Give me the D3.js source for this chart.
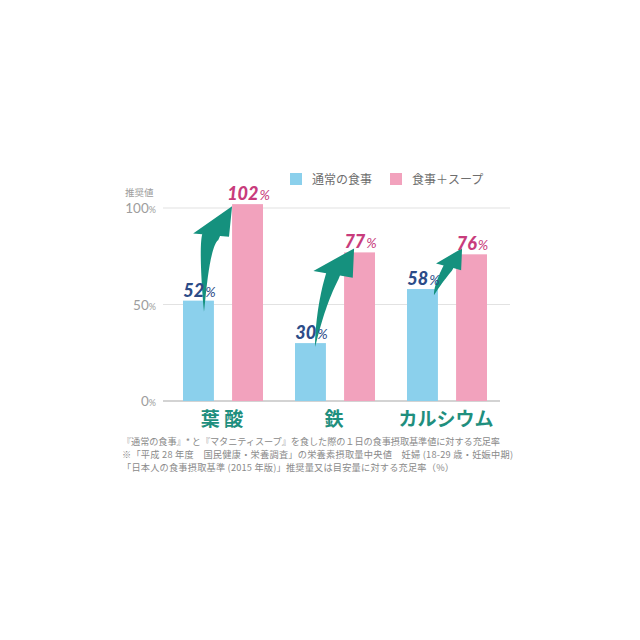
<!DOCTYPE html>
<html><head><meta charset="utf-8">
<script src="https://cdn.jsdelivr.net/npm/d3@7"></script>
<style>html,body{margin:0;padding:0;background:#fff;}svg{display:block;}</style>
</head><body>
<svg id="chart" width="640" height="640"></svg>
<script>
// ---- data ----
const categories = ["葉 酸", "鉄", "カルシウム"];
const seriesNames = ["通常の食事", "食事＋スープ"];
const normalMeal = [52, 30, 58];
const mealPlusSoup = [102, 77, 76];
const yTicks = [0, 50, 100];
const yAxisTitle = "推奨値";
const footnotes = [
  "『通常の食事』* と『マタニティスープ』を食した際の１日の食事摂取基準値に対する充足率",
  "※「平成 28 年度　国民健康・栄養調査」の栄養素摂取量中央値　妊婦 (18-29 歳・妊娠中期)",
  "「日本人の食事摂取基準 (2015 年版)」推奨量又は目安量に対する充足率（%）"
];

// ---- style ----
const colors = {blue: "#8bd0ec", pink: "#f2a2bd", arrow: "#15917e",
  blueLabel: "#2c4c88", pinkLabel: "#c83c7c", cat: "#1f8f7e",
  grid: "#e2e2e2", base: "#c4c4c4", tick: "#9d9d9d", note: "#8a8a8a"};
const arrowStyle = [
  {tail: [21, 11], tip: [0, 2],  head: [-21, 29],   baseAng: 5,  W: 18, w: 9, curve: 1.0},
  {tail: [20, 4],  tip: [10, -4], head: [-21, 26],  baseAng: 10, W: 20, w: 7, curve: 0.4},
  {tail: [27, 6],  tip: [6, -6],  head: [-13.5, 18.5], baseAng: 15, W: 13, w: 5, curve: 0.6}
];
const footWidths = [378, 391, 332];

const svg = d3.select("#chart");
const y = d3.scaleLinear().domain([0, 100]).range([401, 208]);
const x = d3.scaleBand().domain(categories).range([167, 503]).padding(0);
const xs = d3.scaleBand().domain(seriesNames).range([16, 96]).paddingInner(0.37);

// grid lines
svg.append("g").selectAll("line").data(yTicks).join("line")
  .attr("x1", 163).attr("x2", d => d === 0 ? 500 : 510)
  .attr("y1", d => y(d)).attr("y2", d => y(d))
  .attr("stroke", d => d === 0 ? colors.base : colors.grid)
  .attr("stroke-width", d => d === 0 ? 1.5 : 1.2);

// tick labels
const tl = svg.append("g").selectAll("text").data(yTicks).join("text")
  .attr("x", 156).attr("y", d => y(d) + 5).attr("text-anchor", "end")
  .attr("fill", colors.tick).attr("font-family", "Lato, 'Open Sans', sans-serif")
  .attr("font-weight", 400).attr("font-size", 13.5);
tl.append("tspan").text(d => d);
tl.append("tspan").attr("font-size", 9).text("%");

svg.append("text").attr("x", 125).attr("y", 196).text(yAxisTitle)
  .attr("fill", colors.tick).attr("font-family", "'Noto Sans CJK JP', sans-serif")
  .attr("font-size", 9.5);

// bars
const groups = svg.append("g").selectAll("g").data(categories).join("g")
  .attr("transform", c => `translate(${x(c)},0)`);
groups.append("rect").attr("x", xs(seriesNames[0])).attr("width", xs.bandwidth())
  .attr("y", (c, i) => y(normalMeal[i])).attr("height", (c, i) => y(0) - y(normalMeal[i]))
  .attr("fill", colors.blue);
groups.append("rect").attr("x", xs(seriesNames[1])).attr("width", xs.bandwidth())
  .attr("y", (c, i) => y(mealPlusSoup[i])).attr("height", (c, i) => y(0) - y(mealPlusSoup[i]))
  .attr("fill", colors.pink);

// arrows
function arrowPath(T, P, st) {
  const B = [P[0] + st.head[0], P[1] + st.head[1]];
  const hl = Math.hypot(st.head[0], st.head[1]);
  const d = [-st.head[0] / hl, -st.head[1] / hl];
  let k = (B[0] - T[0]) / d[0];
  if (k < 2) k = 2;
  const Ci = [T[0], B[1] - k * d[1]];
  const M = [(T[0] + B[0]) / 2, (T[1] + B[1]) / 2];
  const C = [M[0] + (Ci[0] - M[0]) * st.curve, M[1] + (Ci[1] - M[1]) * st.curve];
  const a = st.baseAng * Math.PI / 180;
  const u = [Math.cos(a), Math.sin(a)];
  const left = [], right = [];
  const N = 30;
  for (let i = 0; i <= N; i++) {
    const t = i / N;
    const p = [(1-t)*(1-t)*T[0] + 2*(1-t)*t*C[0] + t*t*B[0],
               (1-t)*(1-t)*T[1] + 2*(1-t)*t*C[1] + t*t*B[1]];
    const tg = [2*(1-t)*(C[0]-T[0]) + 2*t*(B[0]-C[0]), 2*(1-t)*(C[1]-T[1]) + 2*t*(B[1]-C[1])];
    const tn = Math.hypot(tg[0], tg[1]) || 1;
    let n = [tg[1] / tn, -tg[0] / tn];
    if (n[0] < 0) n = [-n[0], -n[1]];
    const wd = st.w * Math.pow(t, 0.85);
    if (i === N) { left.push([B[0] - u[0]*st.w, B[1] - u[1]*st.w]); right.push([B[0] + u[0]*st.w, B[1] + u[1]*st.w]); }
    else { left.push([p[0] - n[0]*wd, p[1] - n[1]*wd]); right.push([p[0] + n[0]*wd, p[1] + n[1]*wd]); }
  }
  const pts = [].concat(right,
    [[B[0] + u[0]*st.W, B[1] + u[1]*st.W], P, [B[0] - u[0]*st.W, B[1] - u[1]*st.W]],
    left.slice().reverse());
  return d3.line()(pts) + "Z";
}
svg.append("g").selectAll("path").data(categories).join("path")
  .attr("fill", colors.arrow)
  .attr("d", (c, i) => {
    const st = arrowStyle[i];
    const T = [x(c) + xs(seriesNames[0]) + st.tail[0], y(normalMeal[i]) + st.tail[1]];
    const P = [x(c) + xs(seriesNames[1]) + st.tip[0], y(mealPlusSoup[i]) + st.tip[1]];
    return arrowPath(T, P, st);
  });

// value labels
function valueLabels(vals, series, color) {
  const t = svg.append("g").selectAll("text").data(categories).join("text")
    .attr("x", c => x(c) + xs(series) + xs.bandwidth() / 2 + 1)
    .attr("y", (c, i) => y(vals[i]) - 4)
    .attr("text-anchor", "middle").attr("fill", color)
    .attr("font-family", "Lato, 'Open Sans', sans-serif").attr("font-style", "italic");
  t.append("tspan").attr("font-weight", 900).attr("font-size", 18).text((c, i) => vals[i]);
  t.append("tspan").attr("font-weight", 400).attr("font-size", 14).attr("dx", 1).text("%");
}
valueLabels(normalMeal, seriesNames[0], colors.blueLabel);
valueLabels(mealPlusSoup, seriesNames[1], colors.pinkLabel);

// category labels
svg.append("g").selectAll("text").data(categories).join("text")
  .attr("x", c => x(c) + x.bandwidth() / 2 - 1).attr("y", 426)
  .attr("text-anchor", "middle").attr("fill", colors.cat)
  .attr("font-family", "'Noto Sans CJK JP', sans-serif").attr("font-weight", 700)
  .attr("font-size", 19).text(c => c);

// legend
const lg = svg.append("g").selectAll("g").data(seriesNames).join("g")
  .attr("transform", (s, i) => `translate(${290 + i * 100},173)`);
lg.append("rect").attr("width", 12).attr("height", 12)
  .attr("fill", (s, i) => i === 0 ? colors.blue : colors.pink);
lg.append("text").attr("x", 22).attr("y", 11).text(s => s)
  .attr("fill", "#6e6e6e").attr("font-family", "'Noto Sans CJK JP', sans-serif")
  .attr("font-size", 12);

// footnotes
svg.append("g").selectAll("text").data(footnotes).join("text")
  .attr("x", 122).attr("y", (d, i) => 445 + i * 12.8).text(d => d)
  .attr("textLength", (d, i) => footWidths[i]).attr("lengthAdjust", "spacing")
  .attr("fill", colors.note).attr("font-family", "'Noto Sans CJK JP', sans-serif")
  .attr("font-size", 9.2);
</script>
</body></html>
